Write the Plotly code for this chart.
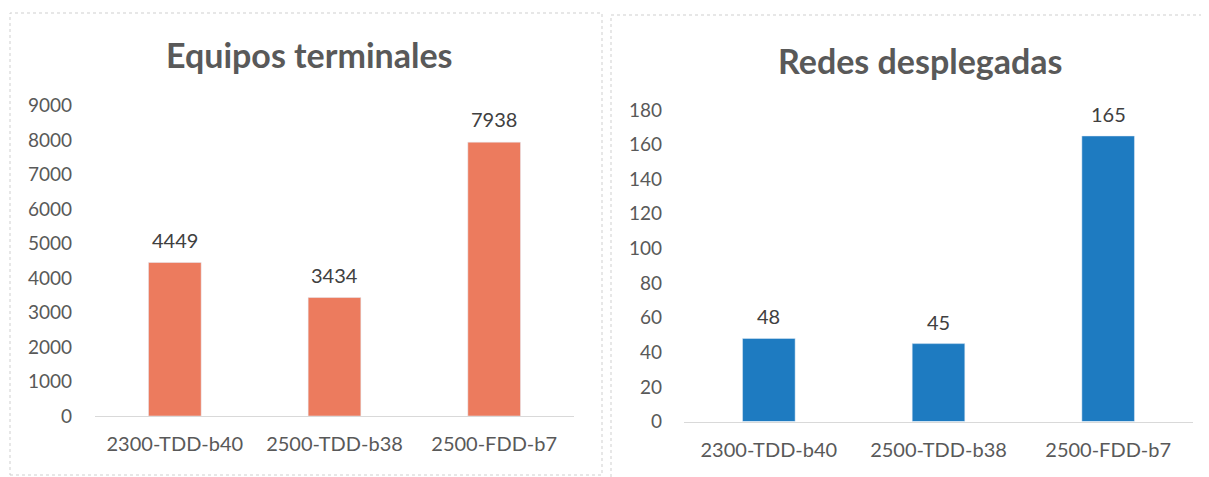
import plotly.graph_objects as go

categories = ["2300-TDD-b40", "2500-TDD-b38", "2500-FDD-b7"]
terminales = [4449, 3434, 7938]
redes = [48, 45, 165]
titles = ["Equipos terminales", "Redes desplegadas"]

ORANGE = "#EC7B5E"
BLUE = "#1E7BC1"
GRAY = "#595959"
FONT = "Lato"

# the page puts the figure 8px in from the top-left corner
W, H, OFF = 1201, 469, 8


def px(x):
    return (x - OFF) / W


def py(y):
    return 1 - (y - OFF) / H


fig = go.Figure()
fig.add_trace(go.Bar(x=categories, y=terminales, marker_color=ORANGE, width=0.33,
                     xaxis="x", yaxis="y", hoverinfo="x+y"))
fig.add_trace(go.Bar(x=categories, y=redes, marker_color=BLUE, width=0.31,
                     xaxis="x2", yaxis="y2", hoverinfo="x+y"))

# value labels above the bars
for c, v in zip(categories, terminales):
    fig.add_annotation(x=c, y=v, xref="x", yref="y", text=str(v), showarrow=False,
                       yshift=23, font=dict(family=FONT, size=20, color="#404040"))
for c, v in zip(categories, redes):
    fig.add_annotation(x=c, y=v, xref="x2", yref="y2", text=str(v), showarrow=False,
                       yshift=22, font=dict(family=FONT, size=20, color="#404040"))

fig.add_annotation(x=px(309), y=py(55), xref="paper", yref="paper", text=titles[0],
                   xanchor="center", yanchor="middle", showarrow=False,
                   font=dict(family=FONT, size=34, color=GRAY, weight="bold"))
fig.add_annotation(x=px(920), y=py(60), xref="paper", yref="paper", text=titles[1],
                   xanchor="center", yanchor="middle", showarrow=False,
                   font=dict(family=FONT, size=34, color=GRAY, weight="bold"))

# dotted panel frames (right one is cut off by the scan)
frame = dict(color="#cfcfcf", width=1, dash="dot")
fig.add_shape(type="rect", xref="paper", yref="paper", x0=px(10), x1=px(602),
              y0=py(475), y1=py(13), line=frame)
fig.add_shape(type="line", xref="paper", yref="paper", x0=px(611), x1=px(611),
              y0=py(477), y1=py(15), line=frame)
fig.add_shape(type="line", xref="paper", yref="paper", x0=px(611), x1=1,
              y0=py(15), y1=py(15), line=frame)

xax = dict(type="category", showgrid=False, zeroline=False, showline=True,
           linecolor="#d9d9d9", linewidth=1, ticks="", ticklabelstandoff=10,
           automargin=False, tickfont=dict(family=FONT, size=20, color=GRAY), fixedrange=True)
yax = dict(showgrid=False, zeroline=False, showline=False, ticks="", automargin=False,
           tickfont=dict(family=FONT, size=19, color=GRAY), fixedrange=True)

fig.update_layout(
    width=W, height=H,
    margin=dict(l=0, r=0, t=0, b=0, autoexpand=False),
    paper_bgcolor="white", plot_bgcolor="white",
    showlegend=False,
    xaxis=dict(xax, domain=[px(95), px(574)], anchor="y"),
    yaxis=dict(yax, domain=[py(416), py(105.5)], range=[0, 9000], dtick=1000,
               anchor="x", ticklabelstandoff=22),
    xaxis2=dict(xax, domain=[px(684), px(1193)], anchor="y2"),
    yaxis2=dict(yax, domain=[py(421.5), py(110)], range=[0, 180], dtick=20,
                anchor="x2", ticklabelstandoff=21),
)

fig.write_html("out.html")
